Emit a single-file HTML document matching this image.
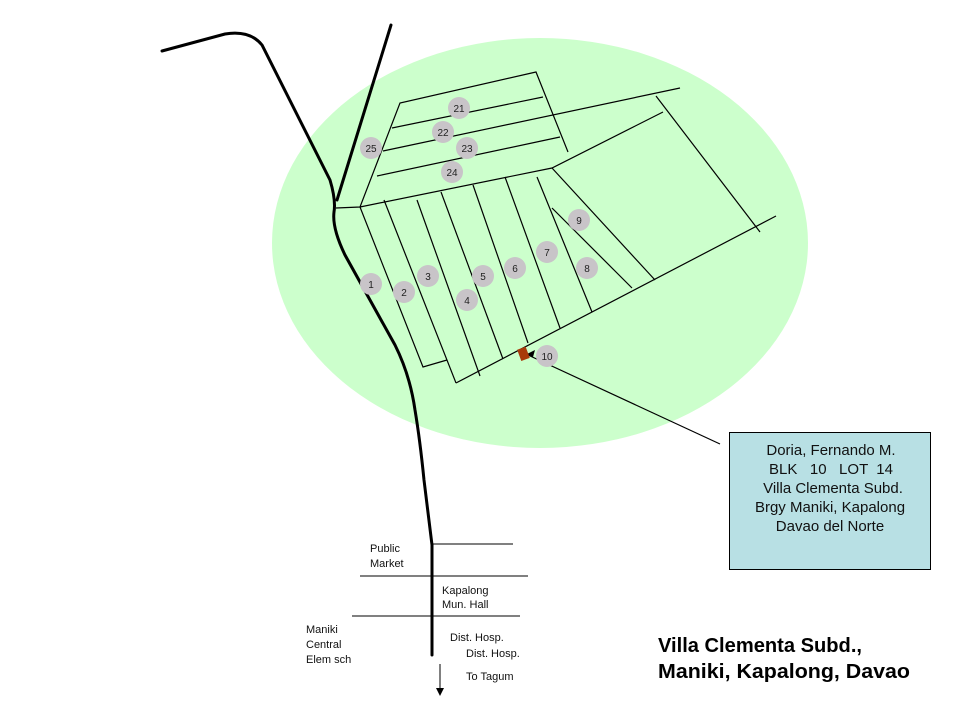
<!DOCTYPE html>
<html><head><meta charset="utf-8"><style>
html,body{margin:0;padding:0;background:#fff;}
svg text{font-family:"Liberation Sans",sans-serif;}
</style></head><body>
<svg width="960" height="720" viewBox="0 0 960 720" xmlns="http://www.w3.org/2000/svg">
<rect width="960" height="720" fill="#fff"/>
<ellipse cx="540" cy="243" rx="268" ry="205" fill="#ccffcc"/>
<g stroke="#000" stroke-width="1.2" fill="none">
<polyline points="360,207 400,103 536,72 568,152"/>
<line x1="392" y1="128" x2="543" y2="97"/>
<line x1="383" y1="151" x2="680" y2="88"/>
<line x1="377" y1="176" x2="560" y2="137"/>
<polyline points="336,208 360,207 552,168 663,112"/>
<line x1="656" y1="96" x2="760" y2="232"/>
<line x1="456" y1="383" x2="776" y2="216"/>
<polyline points="360,207 423,367 447,360"/>
<line x1="384" y1="200" x2="456" y2="383"/>
<line x1="417" y1="200" x2="480" y2="376"/>
<line x1="441" y1="192" x2="503" y2="359"/>
<line x1="473" y1="185" x2="528" y2="343"/>
<line x1="505" y1="177" x2="560" y2="328"/>
<line x1="537" y1="177" x2="592" y2="312"/>
<line x1="552" y1="168" x2="655" y2="280"/>
<line x1="552" y1="208" x2="632" y2="288"/>
<line x1="528" y1="355" x2="720" y2="444"/>
</g>
<polygon points="527,354 535,350 533,357" fill="#000"/>
<g stroke="#000" stroke-width="3" fill="none" stroke-linecap="round">
<path d="M162,51 L225,34 Q250,30 262,45 L330,180 Q336,200 334,212 Q332,228 345,255 L395,345 Q410,375 415,410 Q420,440 424,480 L432,545 L432,655"/>
<line x1="391" y1="25" x2="337" y2="200"/>
</g>
<rect x="519" y="348" width="9" height="12" fill="#a83a0a" transform="rotate(-20 523 354)"/>
<g fill="#c8c4c8">
<circle cx="459" cy="108" r="11"/><circle cx="443" cy="132" r="11"/><circle cx="467" cy="148" r="11"/>
<circle cx="452" cy="172" r="11"/><circle cx="371" cy="148" r="11"/><circle cx="579" cy="220" r="11"/>
<circle cx="547" cy="252" r="11"/><circle cx="587" cy="268" r="11"/><circle cx="515" cy="268" r="11"/>
<circle cx="483" cy="276" r="11"/><circle cx="428" cy="276" r="11"/><circle cx="371" cy="284" r="11"/>
<circle cx="404" cy="292" r="11"/><circle cx="467" cy="300" r="11"/><circle cx="547" cy="356" r="11"/>
</g>
<g font-size="10" text-anchor="middle" fill="#222">
<text x="459" y="112">21</text><text x="443" y="136">22</text><text x="467" y="152">23</text>
<text x="452" y="176">24</text><text x="371" y="152">25</text><text x="579" y="224">9</text>
<text x="547" y="256">7</text><text x="587" y="272">8</text><text x="515" y="272">6</text>
<text x="483" y="280">5</text><text x="428" y="280">3</text><text x="371" y="288">1</text>
<text x="404" y="296">2</text><text x="467" y="304">4</text><text x="547" y="360">10</text>
</g>
<rect x="729.5" y="432.5" width="201" height="137" fill="#b8e0e4" stroke="#000"/>
<g font-size="15" text-anchor="middle" fill="#111">
<text x="831" y="455">Doria, Fernando M.</text>
<text x="831" y="474" xml:space="preserve">BLK   10   LOT  14</text>
<text x="833" y="493">Villa Clementa Subd.</text>
<text x="830" y="512">Brgy Maniki, Kapalong</text>
<text x="830" y="531">Davao del Norte</text>
</g>
<g stroke="#000" stroke-width="1">
<line x1="432" y1="544" x2="513" y2="544"/>
<line x1="360" y1="576" x2="528" y2="576"/>
<line x1="352" y1="616" x2="520" y2="616"/>
<line x1="440" y1="664" x2="440" y2="690"/>
</g>
<polygon points="436,688 444,688 440,696" fill="#000"/>
<g font-size="11" fill="#111">
<text x="370" y="552">Public</text><text x="370" y="567">Market</text>
<text x="442" y="594">Kapalong</text><text x="442" y="608">Mun. Hall</text>
<text x="306" y="633">Maniki</text><text x="306" y="648">Central</text><text x="306" y="663">Elem sch</text>
<text x="450" y="641">Dist. Hosp.</text><text x="466" y="657">Dist. Hosp.</text>
<text x="466" y="680">To Tagum</text>
</g>
<g font-size="20" font-weight="bold" fill="#000">
<text x="658" y="652" textLength="204" lengthAdjust="spacingAndGlyphs">Villa Clementa Subd.,</text>
<text x="658" y="678" textLength="252" lengthAdjust="spacingAndGlyphs">Maniki,  Kapalong,  Davao</text>
</g>
</svg>
</body></html>
